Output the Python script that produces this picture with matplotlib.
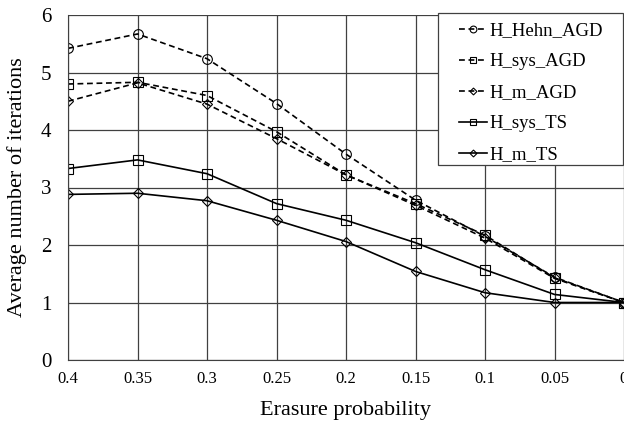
import numpy as np
import matplotlib.pyplot as plt
from matplotlib.patches import Rectangle

plt.rcParams['font.family'] = ['Liberation Serif', 'DejaVu Serif']

# Erasure probability (plotted left to right from 0.4 down to 0)
p = [0.4, 0.35, 0.3, 0.25, 0.2, 0.15, 0.1, 0.05, 0.0]
p_labels = ['0.4', '0.35', '0.3', '0.25', '0.2', '0.15', '0.1', '0.05', '0']

h_hehn_agd = [5.42, 5.67, 5.24, 4.46, 3.58, 2.78, 2.15, 1.44, 1.0]
h_sys_agd = [4.80, 4.83, 4.60, 3.97, 3.22, 2.72, 2.17, 1.43, 1.0]
h_m_agd = [4.50, 4.82, 4.45, 3.85, 3.22, 2.69, 2.12, 1.42, 1.0]
h_sys_ts = [3.33, 3.48, 3.24, 2.72, 2.43, 2.04, 1.57, 1.14, 1.0]
h_m_ts = [2.88, 2.90, 2.77, 2.43, 2.06, 1.54, 1.17, 1.0, 1.0]

W, H = 624, 428
fig = plt.figure(figsize=(W / 100, H / 100), dpi=100)
ax = fig.add_axes([68 / W, 68 / H, 556 / W, 345 / H])

dash = (0, (3.5, 2.2))
kw = dict(color='black', markerfacecolor='none', markeredgecolor='black',
          markeredgewidth=0.8, markersize=7, lw=1.2)
ax.plot(p, h_hehn_agd, linestyle=dash, marker='o', label='H_Hehn_AGD', **kw)
ax.plot(p, h_sys_agd, linestyle=dash, marker='s', label='H_sys_AGD', **kw)
ax.plot(p, h_m_agd, linestyle=dash, marker='D', label='H_m_AGD',
        **{**kw, 'markersize': 5})
ax.plot(p, h_sys_ts, linestyle='-', marker='s', label='H_sys_TS', **kw)
ax.plot(p, h_m_ts, linestyle='-', marker='D', label='H_m_TS',
        **{**kw, 'markersize': 5})

ax.set_xlim(0.4, 0.0)
ax.set_ylim(0, 6)
ax.set_xticks(p)
ax.set_xticklabels(p_labels)
ax.set_yticks(range(0, 7))
ax.grid(True, color='#404040', lw=0.9)
ax.set_axisbelow(True)
ax.tick_params(length=0, labelsize=12, pad=8)
ax.tick_params(axis='y', labelsize=15, pad=12)
for s in ['top', 'right']:
    ax.spines[s].set_visible(False)
for s in ['left', 'bottom']:
    ax.spines[s].set_color('#404040')

ax.set_xlabel('Erasure probability', fontsize=16, labelpad=10)
ax.set_ylabel('Average number of iterations', fontsize=16, labelpad=10)

# legend box drawn separately so the left padding can be wider than the top
box = Rectangle((438 / W, 1 - 165 / H), 185 / W, 152 / H, transform=fig.transFigure,
                facecolor='white', edgecolor='#404040', lw=0.9, zorder=5)
fig.patches.append(box)
leg = fig.legend(*ax.get_legend_handles_labels(), loc='upper left',
                 bbox_to_anchor=(459 / W, 1 - 22 / H), fontsize=13.5,
                 frameon=False, handlelength=1.5, handletextpad=0.1,
                 borderpad=0, borderaxespad=0, labelspacing=0.74,
                 markerscale=0.7)
leg.set_zorder(6)

fig.savefig('out.png', dpi=100)
